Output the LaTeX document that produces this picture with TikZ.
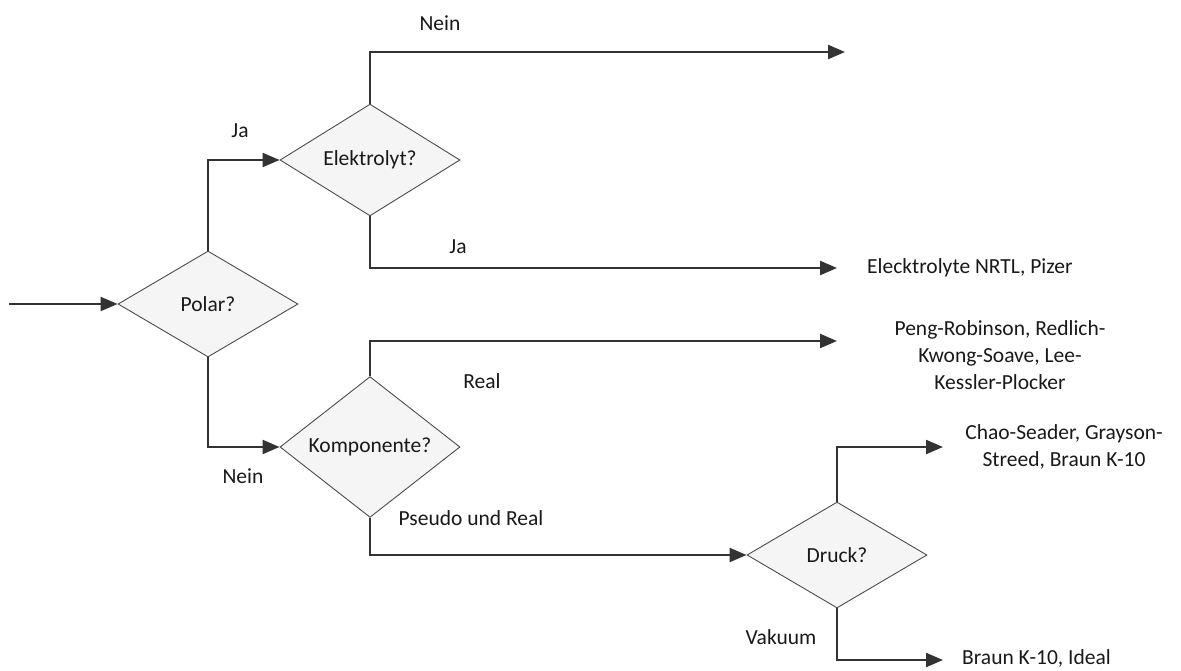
\documentclass[tikz,border=0pt]{standalone}
\usepackage{fontspec}
\setmainfont{Carlito}
\usetikzlibrary{shapes.geometric,arrows.meta}
\begin{document}
\begin{tikzpicture}[x=1pt,y=-1pt,
  every node/.style={font=\fontsize{21.5}{27}\selectfont, text=black!90},
  decision/.style={diamond, draw=black!70, line width=0.9pt, fill=black!4,
    inner sep=0pt, minimum width=180pt, minimum height=106pt},
  arr/.style={draw=black!80, line width=2.2pt,
    -{Triangle[length=17pt,width=14pt]}},
  lbl/.style={inner sep=0pt},
  result/.style={inner sep=0pt, align=center}]
\useasboundingbox (0,0) rectangle (1181,670);

% decisions
\node[decision] (polar) at (208,304) {Polar?};
\node[decision] (elek) at (370,160) {Elektrolyt?};
\node[decision] (komp) at (370,447) {Komponente?};
\node[decision] (druck) at (837,555) {Druck?};

% free ends of the connectors
\coordinate (start) at (9,304);
\coordinate (e1) at (845,52);
\coordinate (e2) at (837,268);
\coordinate (e3) at (837,341);
\coordinate (e4) at (943,447);
\coordinate (e5) at (943,660);

% results
\node[result, anchor=west] (r2) at (867,268) {Elecktrolyte NRTL, Pizer};
\node[result] (r3) at (1000,355) {Peng-Robinson, Redlich-\\Kwong-Soave, Lee-\\Kessler-Plocker};
\node[result] (r4) at (1064,447) {Chao-Seader, Grayson-\\Streed, Braun K-10};
\node[result, anchor=west] (r5) at (962,658) {Braun K-10, Ideal};

% connectors
\draw[arr] (start) -- (polar.west);
\draw[arr] (polar.north) |- (elek.west);
\draw[arr] (polar.south) |- (komp.west);
\draw[arr] (elek.north) |- (e1);
\draw[arr] (elek.south) |- (e2);
\draw[arr] (komp.north) |- (e3);
\draw[arr] (komp.south) |- (druck.west);
\draw[arr] (druck.north) |- (e4);
\draw[arr] (druck.south) |- (e5);

% branch labels
\node[lbl] (l1) at (440,23) {Nein};
\node[lbl] (l2) at (240,131) {Ja};
\node[lbl] (l3) at (458,247) {Ja};
\node[lbl] (l4) at (482,381) {Real};
\node[lbl] (l5) at (243,476) {Nein};
\node[lbl] (l6) at (471,518) {Pseudo und Real};
\node[lbl] (l7) at (781,637) {Vakuum};
\end{tikzpicture}
\end{document}
